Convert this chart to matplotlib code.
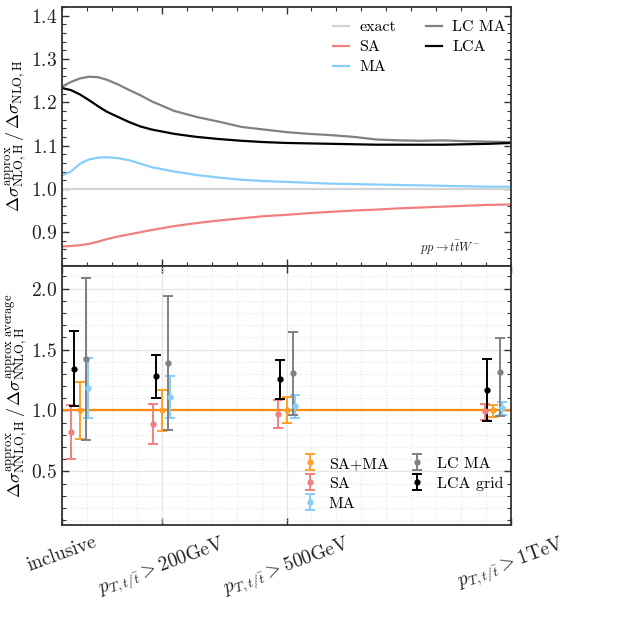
import numpy as np
import matplotlib
matplotlib.use("Agg")
import matplotlib.pyplot as plt
from matplotlib.ticker import MultipleLocator, FixedLocator, NullFormatter

plt.rcParams['font.family'] = 'serif'
plt.rcParams['font.serif'] = ['cmr10', 'DejaVu Serif']
plt.rcParams['mathtext.fontset'] = 'cm'
plt.rcParams['axes.formatter.use_mathtext'] = True

# ---------------- top panel data ----------------
pt_cut = [0, 20, 40, 60, 80, 100, 125, 150, 175, 200, 250, 300, 350, 400, 450,
          500, 550, 600, 650, 700, 750, 800, 850, 900, 950, 1000]
exact = [1.0] * len(pt_cut)
sa = [0.867, 0.868, 0.870, 0.873, 0.878, 0.884, 0.890, 0.895, 0.900, 0.905, 0.914,
      0.921, 0.927, 0.932, 0.937, 0.940, 0.944, 0.947, 0.950, 0.952, 0.955, 0.957,
      0.959, 0.961, 0.963, 0.964]
ma = [1.031, 1.040, 1.058, 1.068, 1.072, 1.073, 1.071, 1.066, 1.058, 1.050, 1.040,
      1.032, 1.026, 1.021, 1.018, 1.016, 1.014, 1.012, 1.011, 1.010, 1.009, 1.008,
      1.007, 1.006, 1.005, 1.005]
lc_ma = [1.236, 1.247, 1.255, 1.259, 1.258, 1.252, 1.241, 1.228, 1.216, 1.202, 1.180,
         1.166, 1.155, 1.143, 1.137, 1.131, 1.127, 1.124, 1.120, 1.114, 1.112, 1.111,
         1.112, 1.110, 1.109, 1.108]
lca = [1.233, 1.228, 1.218, 1.205, 1.191, 1.178, 1.166, 1.154, 1.144, 1.137, 1.127,
       1.120, 1.115, 1.111, 1.108, 1.106, 1.105, 1.104, 1.103, 1.102, 1.102, 1.102,
       1.102, 1.103, 1.104, 1.106]

# ---------------- bottom panel data ----------------
categories = ['inclusive', r'$p_{T,t/\bar{t}} > 200\mathrm{GeV}$',
              r'$p_{T,t/\bar{t}} > 500\mathrm{GeV}$', r'$p_{T,t/\bar{t}} > 1\mathrm{TeV}$']
cat_tick = [0, 222, 500, 1000]
cat_point = [40, 222, 500, 960]

samma_val = [1.0, 1.0, 1.0, 1.0]
samma_lo = [0.768, 0.831, 0.897, 0.945]
samma_hi = [1.233, 1.170, 1.107, 1.045]

sa_val = [0.823, 0.891, 0.973, 0.992]
sa_lo = [0.602, 0.727, 0.856, 0.918]
sa_hi = [1.041, 1.057, 1.088, 1.055]

ma_val = [1.184, 1.112, 1.033, 1.020]
ma_lo = [0.940, 0.940, 0.938, 0.965]
ma_hi = [1.430, 1.284, 1.123, 1.069]

lcma_val = [1.421, 1.391, 1.306, 1.315]
lcma_lo = [0.754, 0.842, 0.965, 0.951]
lcma_hi = [2.090, 1.943, 1.648, 1.598]

lca_val = [1.344, 1.279, 1.260, 1.170]
lca_lo = [1.033, 1.100, 1.098, 0.910]
lca_hi = [1.653, 1.457, 1.415, 1.424]

# ---------------- figure ----------------
fig = plt.figure(figsize=(6.34, 6.34), dpi=100)
W = H = 634.0
left, right = 62 / W, 511 / W
ax1 = fig.add_axes([left, 1 - 265.5 / H, right - left, (265.5 - 7) / H])
ax2 = fig.add_axes([left, 1 - 525 / H, right - left, (525 - 265.5) / H])

spine_col = '#333333'
for ax in (ax1, ax2):
    for s in ax.spines.values():
        s.set_color(spine_col)
        s.set_linewidth(1.3)
    ax.set_xlim(0, 1000)
    ax.tick_params(which='both', direction='in', top=True, right=True,
                   colors=spine_col, labelcolor='#222222', labelsize=14)
    ax.tick_params(which='major', length=5, width=1.0)
    ax.tick_params(which='minor', length=3, width=0.8)
    ax.xaxis.set_major_locator(FixedLocator(cat_tick[1:3]))
    ax.xaxis.set_minor_locator(FixedLocator(np.linspace(0, 1000, 19)))

# top panel
ax1.plot(pt_cut, exact, color='#d3d3d3', lw=1.6, label='exact')
ax1.plot(pt_cut, sa, color='#f08080', lw=1.6, label='SA')
ax1.plot(pt_cut, ma, color='#87cefa', lw=1.6, label='MA')
ax1.plot(pt_cut, lc_ma, color='#808080', lw=1.6, label='LC MA')
ax1.plot(pt_cut, lca, color='black', lw=1.6, label='LCA')
ax1.set_ylim(0.823, 1.42)
ax1.yaxis.set_major_locator(MultipleLocator(0.1))
ax1.yaxis.set_minor_locator(MultipleLocator(0.02))
ax1.xaxis.set_major_formatter(NullFormatter())
ax1.set_ylabel(r'$\Delta\sigma^{\mathrm{approx}}_{\mathrm{NLO,H}}\,/\,\Delta\sigma_{\mathrm{NLO,H}}$',
               fontsize=13, labelpad=1)
ax1.legend(ncol=2, loc='upper right', frameon=False, fontsize=11.5,
           handlelength=1.0, handletextpad=0.65, columnspacing=1.9, labelspacing=0.36,
           borderaxespad=0.3, bbox_to_anchor=(1.014, 0.992))
ax1.text(0.931, 0.035, r'$pp \to t\bar{t}W^{-}$', transform=ax1.transAxes,
         ha='right', va='bottom', fontsize=9, color='#222222')

# bottom panel
ax2.grid(which='major', color='#e6e6e6', lw=0.9, ls='-')
ax2.grid(which='minor', color='#e6e6e6', lw=0.8, ls=':')
ax2.set_axisbelow(True)
ax2.axhline(1.0, color='#ff8c00', lw=1.6, zorder=2)

xp = np.array(cat_point, dtype=float)
series = [
    (samma_val, samma_lo, samma_hi, '#ffa02a', 0.0, 'SA+MA'),
    (sa_val, sa_lo, sa_hi, '#f08080', -19.0, 'SA'),
    (ma_val, ma_lo, ma_hi, '#87cefa', 19.0, 'MA'),
    (lcma_val, lcma_lo, lcma_hi, '#808080', 14.5, 'LC MA'),
    (lca_val, lca_lo, lca_hi, 'black', -13.5, 'LCA grid'),
]
for val, lo, hi, col, off, lab in series:
    v = np.array(val)
    yerr = np.vstack([v - np.array(lo), np.array(hi) - v])
    ax2.errorbar(xp + off, v, yerr=yerr, fmt='o', color=col, ms=3.5,
                 elinewidth=1.4, capsize=3.5, capthick=1.4, label=lab, zorder=3)

ax2.set_ylim(0.06, 2.19)
ax2.yaxis.set_major_locator(MultipleLocator(0.5))
ax2.yaxis.set_minor_locator(MultipleLocator(0.1))
ax2.tick_params(axis='x', which='minor', length=0)
ax2.set_xticks(cat_tick)
ax2.set_xticklabels(categories, rotation=20, ha='center', fontsize=14)
ax2.tick_params(axis='x', which='major', pad=6)
ax2.set_ylabel(r'$\Delta\sigma^{\mathrm{approx}}_{\mathrm{NNLO,H}}\,/\,\Delta\sigma^{\mathrm{approx\ average}}_{\mathrm{NNLO,H}}$',
               fontsize=13, labelpad=1)
ax2.legend(ncol=2, loc='lower right', frameon=False, fontsize=11.5,
           handlelength=1.0, handletextpad=0.7, columnspacing=1.3, labelspacing=0.36,
           borderaxespad=0.3, bbox_to_anchor=(1.007, 0.012))

fig.savefig('out.png', dpi=100)
